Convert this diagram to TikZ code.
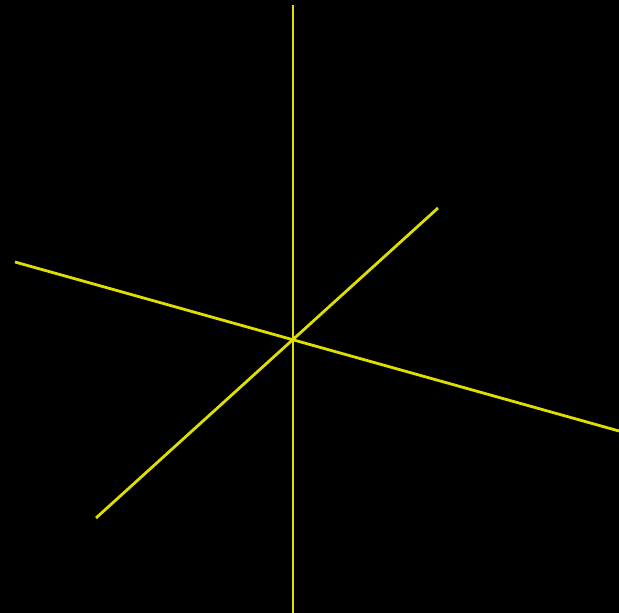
\documentclass[tikz,border=0pt]{standalone}
\usetikzlibrary{positioning}
\definecolor{axisyellow}{RGB}{222,222,0}
\tikzset{
  axis line/.style={axisyellow, line width=2.8pt}
}
\begin{document}
\begin{tikzpicture}[x=1pt, y=-1pt]
    \fill[black] (0,0) rectangle (619,613);
    \useasboundingbox (0,0) rectangle (619,613);
    % axis end points
    \coordinate (origin) at (293,340);
    \coordinate (top) at (293,5);
    \coordinate (bottom) at (293,613);
    \coordinate (left) at (15,262);
    \coordinate (right) at (619,431);
    \coordinate (back) at (438,208);
    \coordinate (front) at (96,518);
    \draw[axis line] (top) -- (bottom);
    \draw[axis line] (left) -- (right);
    \draw[axis line] (front) -- (back);
\end{tikzpicture}
\end{document}
